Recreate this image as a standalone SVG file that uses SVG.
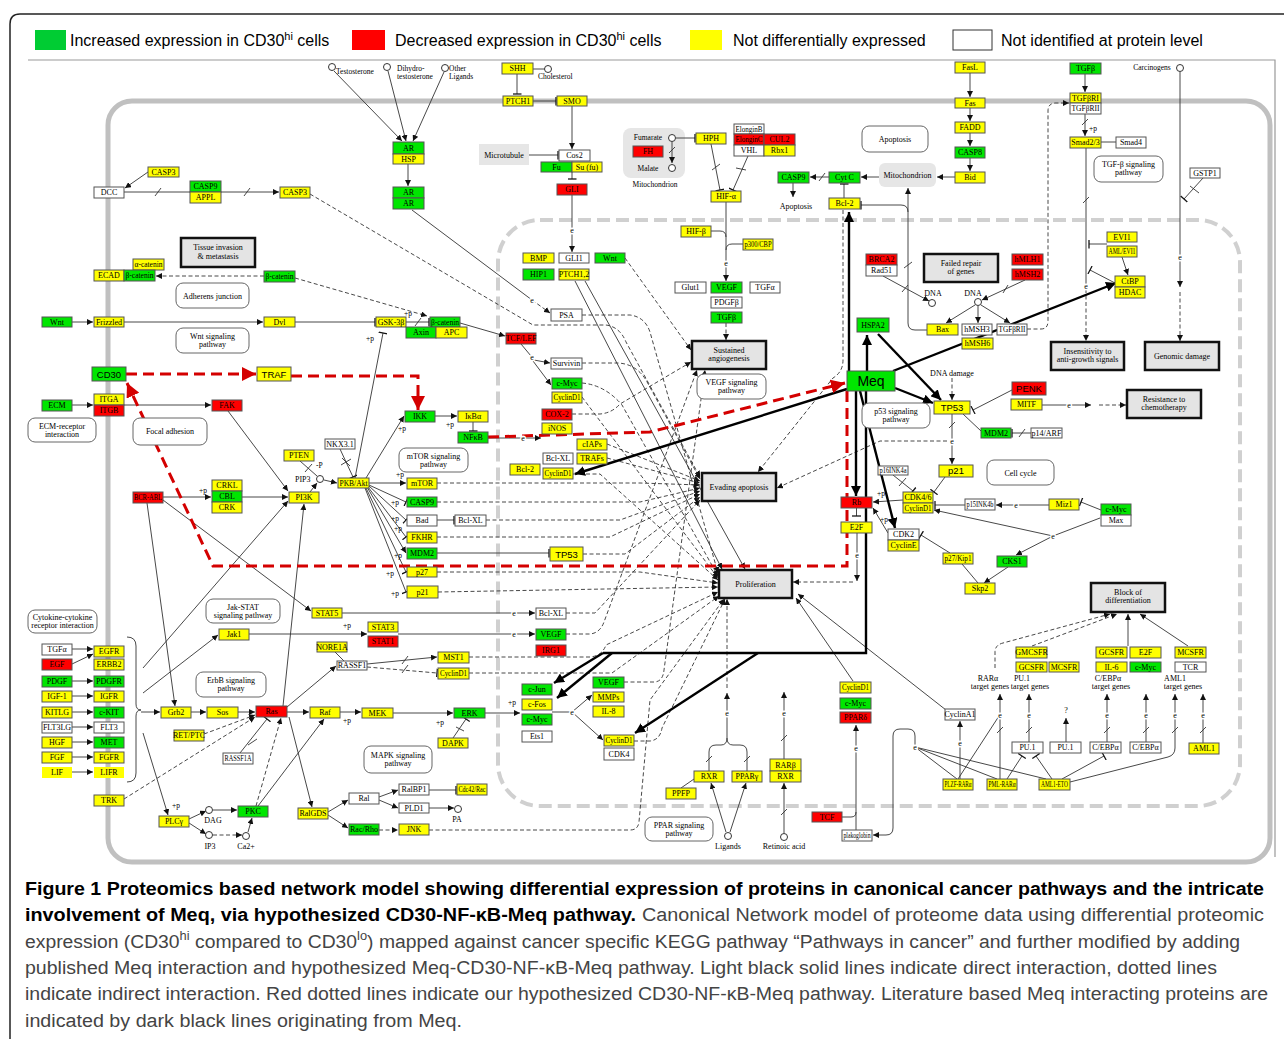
<svg xmlns="http://www.w3.org/2000/svg" width="1284" height="1039" viewBox="0 0 1284 1039">
<style>
text{font-family:"Liberation Serif","DejaVu Serif",serif;font-size:8px;text-anchor:middle;fill:#000}
rect.g{fill:#00e600}rect.r{fill:#f00}rect.y{fill:#ff0}rect.w{fill:#fff}
rect.g,rect.r,rect.y,rect.w{stroke:#555;stroke-width:1}
.sn{font-family:"Liberation Sans",Arial,sans-serif;font-size:9.5px}
.pb rect{fill:#e4e4e4;stroke:#111;stroke-width:2.5}
.pw rect{fill:#fff;stroke:#666;stroke-width:1}
.gr{fill:#e6e6e6}
.c{fill:none;stroke:#333;stroke-width:0.9}
.d{stroke-dasharray:4 2.5}
.tk{fill:none;stroke:#000;stroke-width:2.4}
.rd{fill:none;stroke:#d40000;stroke-width:3;stroke-dasharray:11 6}
.A{marker-end:url(#a)}.B{marker-end:url(#b)}.TA{marker-end:url(#ta)}.RA{marker-end:url(#ra)}
.e{font-size:8px;paint-order:stroke;stroke:#fff;stroke-width:3px}
.lt{text-anchor:start}
.sm{font-size:7.5px}
.p{text-anchor:start;font-size:7.5px}
.cp{fill:#fff;stroke:#333;stroke-width:1}
.cap{font-family:"Liberation Sans",Arial,sans-serif;font-size:18px;text-anchor:start;fill:#444}
.sup{font-size:12px}
.capb{font-weight:bold;fill:#000}
.leg{font-family:"Liberation Sans",Arial,sans-serif;font-size:16px;text-anchor:start}
.meq{font-size:14px}
</style>
<defs>
<marker id="a" viewBox="0 0 10 10" refX="10" refY="5" markerWidth="6" markerHeight="6" orient="auto" markerUnits="userSpaceOnUse"><path d="M0,0L10,5L0,10z" fill="#111"/></marker>
<marker id="b" viewBox="0 0 10 10" refX="5" refY="5" markerWidth="9" markerHeight="9" orient="auto" markerUnits="userSpaceOnUse"><path d="M5,0V10" stroke="#111" stroke-width="1.4"/></marker>
<marker id="ta" viewBox="0 0 10 10" refX="10" refY="5" markerWidth="10" markerHeight="10" orient="auto" markerUnits="userSpaceOnUse"><path d="M0,0L10,5L0,10z" fill="#000"/></marker>
<marker id="ra" viewBox="0 0 10 10" refX="10" refY="5" markerWidth="14" markerHeight="14" orient="auto" markerUnits="userSpaceOnUse"><path d="M0,0L10,5L0,10z" fill="#d40000"/></marker>
</defs>
<rect width="1284" height="1039" fill="#fff"/>
<path d="M10,1039V24Q10,14 20,14H1284" fill="none" stroke="#222" stroke-width="1.5"/>
<g id="legend">
<rect x="35" y="30" width="31" height="20" fill="#00cc33"/>
<text class="leg" x="70" y="46">Increased expression in CD30<tspan dy="-6" style="font-size:11px">hi</tspan><tspan dy="6"> cells</tspan></text>
<rect x="352" y="30" width="33" height="20" fill="#f00"/>
<text class="leg" x="395" y="46">Decreased expression in CD30<tspan dy="-6" style="font-size:11px">hi</tspan><tspan dy="6"> cells</tspan></text>
<rect x="690" y="30" width="32" height="20" fill="#ff0"/>
<text class="leg" x="733" y="46">Not differentially expressed</text>
<rect x="953" y="30" width="39" height="20" fill="#fff" stroke="#333"/>
<text class="leg" x="1001" y="46">Not identified at protein level</text>
</g>
<g id="frame">
<path d="M28,60H1275V857" fill="none" stroke="#999" stroke-width="1.2"/>
<rect x="108" y="101" width="1162" height="761" rx="24" fill="none" stroke="#c0c0c0" stroke-width="5"/>
<rect x="498" y="220" width="742" height="586" rx="42" fill="none" stroke="#d0d0d0" stroke-width="4" stroke-dasharray="13 6"/>
<rect class="gr" x="479" y="144" width="50" height="21"/>
<rect class="gr" x="623" y="128" width="62" height="50" rx="8"/>
<rect class="gr" x="879" y="163" width="57" height="24" rx="6"/>
</g>
<g id="connectors">
<path class="c A" d="M148,172L125,188"/>
<path class="c A" d="M124,192H279"/>
<path class="c" d="M155,196L161,188M244,196L250,188"/>
<path class="c d A" d="M264,276H156"/>
<path class="c A" d="M72,322H93"/>
<path class="c A" d="M124,322H263"/>
<path class="c B" d="M295,322H375"/>
<path class="c B" d="M406,322H429"/>
<path class="c" d="M415,326L421,318"/>
<path class="c d A" d="M295,278L427,316"/>
<path class="c A" d="M460,323L505,336"/>
<path class="c" d="M521,344L531,356"/>
<path class="c A" d="M534,360L550,363"/>
<path class="c A" d="M533,361L551,385"/>
<path class="c A" d="M334,71L402,141"/>
<path class="c A" d="M388,71L406,141"/>
<path class="c A" d="M444,72L413,141"/>
<path class="c A" d="M408,164V186"/>
<path class="c" d="M412,210L532,300"/>
<path class="c d A" d="M532,300L550,313"/>
<path class="c" d="M533,69H545"/>
<path class="c B" d="M517,74V94"/>
<path class="c B" d="M533,101H556"/>
<path class="c A" d="M572,106V149"/>
<path class="c B" d="M529,155H558"/>
<path class="c B" d="M572,172V179"/>
<path class="c A" d="M572,195V252"/>
<path class="c B" d="M676,138H695"/>
<path class="c A" d="M672,142V163"/>
<path class="c" d="M669,153L675,147"/>
<path class="c B" d="M711,144L720,190"/>
<path class="c" d="M712,170L720,164"/>
<path class="c B" d="M748,156L733,190"/>
<path class="c" d="M736,168L746,170"/>
<path class="c A" d="M726,202V281"/>
<path class="c" d="M711,231H720Q726,231 726,237"/>
<path class="c" d="M743,244H732Q726,244 726,250"/>
<path class="c d A" d="M726,323V340"/>
<path class="c A" d="M970,73V97"/>
<path class="c A" d="M970,108V121"/>
<path class="c A" d="M970,133V146"/>
<path class="c A" d="M970,158V171"/>
<path class="c A" d="M955,177H937"/>
<path class="c A" d="M879,177H861"/>
<path class="c A" d="M829,177H810"/>
<path class="c" d="M819,181L825,173"/>
<path class="c A" d="M793,183V197"/>
<path class="c B" d="M844,198V184"/>
<path class="c A" d="M927,330H915Q908,330 908,323V188"/>
<path class="c" d="M904,268L912,262"/>
<path class="c B" d="M908,212Q908,205 901,205H861"/>
<path class="c A" d="M883,276L929,301"/>
<path class="c" d="M902,292L908,285"/>
<path class="c A" d="M1025,280L982,300"/>
<path class="c" d="M1003,293L1008,285"/>
<path class="c A" d="M975,305L946,323"/>
<path class="c A" d="M978,306V323"/>
<path class="c A" d="M981,305L1010,323"/>
<path class="c d A" d="M1027,329H1041Q1048,329 1048,321V111Q1048,103 1056,103H1069"/>
<path class="c A" d="M1085,114V136"/>
<path class="c A" d="M1085,74V92"/>
<path class="c" d="M1082,125L1088,119"/>
<path class="c" d="M1101,142H1116"/>
<path class="c" d="M1086,148V286"/>
<path class="c" d="M1083,203L1089,197"/>
<path class="c d A" d="M1086,289V341"/>
<path class="c B" d="M1107,244H1089"/>
<path class="c A" d="M1122,257L1128,275"/>
<path class="c B" d="M1115,283L1090,270"/>
<path class="c A" d="M1180,72V287"/>
<path class="c d A" d="M1180,292V341"/>
<path class="c B" d="M1203,178L1184,199"/>
<path class="c" d="M1190,186L1199,193"/>
<path class="c A" d="M72,405H93"/>
<path class="c A" d="M124,405H211"/>
<path class="c A" d="M228,411L288,491"/>
<path class="c A" d="M163,497H211"/>
<path class="c A" d="M242,497H288"/>
<path class="c" d="M300,461L317,476"/>
<path class="c" d="M305,472L312,464"/>
<path class="c A" d="M310,492L317,483"/>
<path class="c A" d="M324,480L337,483"/>
<path class="c B" d="M340,449L353,477"/>
<path class="c" d="M341,465L351,459M342,458L350,466"/>
<path class="c A" d="M366,478L404,416"/>
<path class="c A" d="M369,483H406"/>
<path class="c B" d="M369,485L406,502"/>
<path class="c B" d="M369,486L406,520"/>
<path class="c B" d="M368,487L406,537"/>
<path class="c A" d="M367,487L406,553"/>
<path class="c B" d="M366,488L406,572"/>
<path class="c B" d="M365,488L406,592"/>
<path class="c B" d="M355,478L383,333"/>
<path class="c B" d="M437,520H454"/>
<path class="c B" d="M437,553H549"/>
<path class="c A" d="M435,416H457"/>
<path class="c B" d="M473,422V431"/>
<path class="c A" d="M488,438H541"/>
<path class="c A" d="M163,500L311,611"/>
<path class="c A" d="M147,503L175,706"/>
<path class="c A" d="M342,613H535"/>
<path class="c A" d="M249,634H367"/>
<path class="c A" d="M398,634H535"/>
<path class="c A" d="M143,668L288,501"/>
<path class="c A" d="M143,693L218,635"/>
<path class="c A" d="M141,712H160"/>
<path class="c A" d="M143,733L168,815"/>
<path class="c" d="M127,637Q136,637 136,646V704Q136,710 141,710Q136,710 136,716V773Q136,782 127,782" stroke="#999"/>
<path class="c A" d="M72,649H93"/>
<path class="c A" d="M72,664L93,654"/>
<path class="c A" d="M72,681H93"/>
<path class="c A" d="M72,696H93"/>
<path class="c A" d="M72,712H93"/>
<path class="c A" d="M72,727H93"/>
<path class="c A" d="M72,742H93"/>
<path class="c A" d="M72,757H93"/>
<path class="c A" d="M72,772H93"/>
<path class="c A" d="M191,712H206"/>
<path class="c A" d="M238,712H255"/>
<path class="c d A" d="M204,734L255,715"/>
<path class="c d A" d="M124,799L255,717"/>
<path class="c B" d="M240,753L267,719"/>
<path class="c" d="M248,745L257,739"/>
<path class="c A" d="M287,712H309"/>
<path class="c A" d="M283,706L304,504"/>
<path class="c A" d="M289,717L312,807"/>
<path class="c A" d="M287,707L336,666"/>
<path class="c" d="M335,652L344,661"/>
<path class="c A" d="M367,664L437,657"/>
<path class="c" d="M402,664L408,656"/>
<path class="c d B" d="M367,667L437,673"/>
<path class="c" d="M402,673L408,665"/>
<path class="c A" d="M189,819L206,811"/>
<path class="c A" d="M213,810H237"/>
<path class="c A" d="M189,823L206,834"/>
<path class="c d A" d="M213,835H242"/>
<path class="c A" d="M248,832L252,818"/>
<path class="c d A" d="M256,806L281,718"/>
<path class="c A" d="M258,806L324,719"/>
<path class="c A" d="M340,712H361"/>
<path class="c A" d="M393,713H453"/>
<path class="c B" d="M453,738L466,719"/>
<path class="c" d="M456,727L464,731"/>
<path class="c A" d="M485,713H520"/>
<path class="c" d="M552,712H572"/>
<path class="c A" d="M572,712L592,695"/>
<path class="c A" d="M572,712L603,740"/>
<path class="c A" d="M328,812L348,800"/>
<path class="c A" d="M379,797L398,790"/>
<path class="c A" d="M379,800L398,808"/>
<path class="c B" d="M429,790H456"/>
<path class="c A" d="M429,808H454"/>
<path class="c A" d="M328,815L348,828"/>
<path class="c d A" d="M379,830H398"/>
<path class="c d A" d="M429,830H630Q638,830 639,822L650,700L724,599"/>
<path class="c d A" d="M952,378V400"/>
<path class="c A" d="M952,414V464"/>
<path class="c" d="M949,428L955,422"/>
<path class="c d A" d="M947,441H880L777,488"/>
<path class="c" d="M963,414L981,431"/>
<path class="c B" d="M1012,390L973,410"/>
<path class="c A" d="M1042,405H1091"/>
<path class="c d A" d="M1099,405H1126"/>
<path class="c B" d="M1031,433H1012"/>
<path class="c" d="M1019,437L1025,429"/>
<path class="c B" d="M945,477L934,492"/>
<path class="c B" d="M893,475L913,491"/>
<path class="c" d="M899,486L906,478"/>
<path class="c A" d="M903,500L873,502"/>
<path class="c A" d="M888,533L873,508"/>
<path class="c B" d="M856.5,508V516"/>
<path class="c A" d="M857,533V581"/>
<path class="c d A" d="M853,582H793"/>
<path class="c B" d="M965,505H935"/>
<path class="c A" d="M1049,505H996"/>
<path class="c B" d="M1101,510L1081,502"/>
<path class="c" d="M1100,518L1053,536"/>
<path class="c A" d="M1053,536L934,510"/>
<path class="c A" d="M1053,536L1016,555"/>
<path class="c B" d="M950,553L921,535"/>
<path class="c A" d="M1008,567L984,583"/>
<path class="c" d="M962,564L978,583"/>
<path class="c A" d="M960,779V721"/>
<path class="c" d="M915,747L957,779M915,747L997,779M915,747L1046,779"/>
<path class="c A" d="M915,747V736Q915,729 908,729H900Q893,729 893,736V828Q893,835 886,835H873"/>
<path class="c" d="M958,779L999,716"/>
<path class="c A" d="M1000,779V694"/>
<path class="c" d="M997,733L1003,727"/>
<path class="c B" d="M1007,779L1022,756"/>
<path class="c B" d="M1052,779L1036,756"/>
<path class="c B" d="M1062,779L1104,756"/>
<path class="c A" d="M1070,782L1168,757Q1175,755 1175,748V694"/>
<path class="c" d="M1172,733L1178,727"/>
<path class="c A" d="M1029,742V694"/>
<path class="c" d="M1026,733L1032,727"/>
<path class="c A" d="M1066,742V718"/>
<path class="c A" d="M1107,742V694"/>
<path class="c" d="M1104,733L1110,727"/>
<path class="c A" d="M1146,742V694"/>
<path class="c" d="M1143,733L1149,727"/>
<path class="c A" d="M1203,743V694"/>
<path class="c" d="M1200,733L1206,727"/>
<path class="c d A" d="M995,668V652Q995,645 1003,643L1110,614"/>
<path class="c d A" d="M1032,646L1117,614"/>
<path class="c A" d="M1128,646V614"/>
<path class="c A" d="M1188,646L1140,614"/>
<path class="c" d="M842,817H851Q856,817 856,812"/>
<path class="c A" d="M856,830V725"/>
<path class="c A" d="M853,681L796,598"/>
<path class="c A" d="M946,710L798,594"/>
<path class="c" d="M709,771V752Q709,745 716,745H721Q727,745 727,738Q727,745 733,745H740Q747,745 747,752V771"/>
<path class="c" d="M706,762L712,756M744,762L750,756"/>
<path class="c A" d="M727,738V693"/>
<path class="c d A" d="M727,688V599"/>
<path class="c" d="M681,788L694,779"/>
<path class="c A" d="M726,832L711,783"/>
<path class="c A" d="M730,832L746,783"/>
<path class="c A" d="M784,833V783"/>
<path class="c" d="M781,815L787,809"/>
<path class="c A" d="M784,759V692"/>
<path class="c" d="M781,741L787,735"/>
<path class="c d A" d="M310,194L533,325H606Q620,327 626,342L700,477"/>
<path class="c d A" d="M582,363H618Q636,364 646,380L700,479"/>
<path class="c d A" d="M607,444L700,481"/>
<path class="c d A" d="M607,458L700,483"/>
<path class="c d A" d="M437,483H640L700,485"/>
<path class="c d A" d="M437,502H640L700,488"/>
<path class="c d A" d="M486,520H620L700,491"/>
<path class="c d A" d="M437,537H610L700,494"/>
<path class="c d A" d="M583,554H625L700,497"/>
<path class="c d A" d="M566,613H595L700,500"/>
<path class="c d A" d="M843,210V360Q843,372 833,378L758,472"/>
<path class="c d A" d="M582,315H630Q645,317 650,332L718,573"/>
<path class="c d A" d="M582,383Q605,385 622,405L718,576"/>
<path class="c d A" d="M582,397L718,578"/>
<path class="c d A" d="M573,474H600L718,580"/>
<path class="c d A" d="M437,572H640L718,583"/>
<path class="c d A" d="M438,592L718,587"/>
<path class="c d A" d="M469,657H590Q602,656 606,645L718,592"/>
<path class="c d A" d="M469,673H612L719,596"/>
<path class="c d A" d="M634,741H650Q660,740 662,728L725,599"/>
<path class="c d A" d="M624,682H655Q663,681 664,670L705,370"/>
<path class="c d A" d="M566,634H590Q600,633 604,622L697,370"/>
<path class="c d A" d="M572,414H600Q612,413 620,404L691,362"/>
<path class="c A" d="M575,281L722,569"/>
<path class="c A" d="M585,281L745,569"/>
<path class="c d A" d="M625,258L691,350"/>
<path class="tk TA" d="M849,371V212"/>
<path class="tk TA" d="M867,371V335"/>
<path class="tk TA" d="M878,334L941,400"/>
<path class="tk TA" d="M895,388L933,403"/>
<path class="tk TA" d="M893,371L1116,283"/>
<path class="tk TA" d="M847,389L575,474"/>
<path class="tk TA" d="M856,391V496"/>
<path class="tk TA" d="M860,391L895,528"/>
<path class="tk" d="M866,391V653H603"/>
<path class="tk TA" d="M603,653L554,683"/>
<path class="tk TA" d="M612,653L557,698"/>
<path class="tk TA" d="M758,653L635,733"/>
<path class="rd RA" d="M126,374H256"/>
<path class="rd RA" d="M291,376H418V410"/>
<path class="rd RA" d="M488,437L650,432L845,383"/>
<path class="rd RA" d="M847,391V566H213L127,383"/>
<g>
<text class="e" x="532" y="360">e</text><text class="e" x="532" y="303">e</text><text class="e" x="572" y="233">e</text><text class="e" x="726" y="266">e</text><text class="e" x="1086" y="289">e</text><text class="e" x="1180" y="260">e</text><text class="e" x="523" y="441">e</text><text class="e" x="514" y="616">e</text><text class="e" x="514" y="637">e</text><text class="e" x="572" y="715">e</text><text class="e" x="952" y="444">e</text><text class="e" x="1069" y="408">e</text><text class="e" x="857" y="558">e</text><text class="e" x="1016" y="508">e</text><text class="e" x="1053" y="539">e</text><text class="e" x="960" y="746">e</text><text class="e" x="915" y="750">e</text><text class="e" x="1000" y="718">e</text><text class="e" x="1029" y="718">e</text><text class="e" x="1107" y="718">e</text><text class="e" x="1146" y="718">e</text><text class="e" x="1175" y="718">e</text><text class="e" x="1203" y="718">e</text><text class="e" x="856" y="751">e</text><text class="e" x="727" y="716">e</text><text class="e" x="784" y="716">e</text>
</g>
<g>
<text class="p" x="404" y="316">+p</text><text class="p" x="366" y="341">+p</text><text class="p" x="199" y="493">+p</text><text class="p" x="398" y="431">+p</text><text class="p" x="446" y="427">+p</text><text class="p" x="396" y="477">+p</text><text class="p" x="391" y="505">+p</text><text class="p" x="391" y="521">+p</text><text class="p" x="394" y="531">+p</text><text class="p" x="394" y="558">+p</text><text class="p" x="386" y="576">+p</text><text class="p" x="391" y="596">+p</text><text class="p" x="343" y="628">+p</text><text class="p" x="343" y="723">+p</text><text class="p" x="436" y="725">+p</text><text class="p" x="508" y="705">+p</text><text class="p" x="1089" y="131">+p</text><text class="p" x="877" y="496">+p</text><text class="p" x="880" y="522">+p</text><text class="p" x="172" y="808">+p</text><text class="p" x="316" y="468">-P</text>
</g>
<g id="compounds">
<circle class="cp" cx="332" cy="67" r="3.5"/><circle class="cp" cx="387" cy="67" r="3.5"/><circle class="cp" cx="445" cy="68" r="3.5"/><circle class="cp" cx="548" cy="69" r="3.5"/>
<circle class="cp" cx="672" cy="138" r="3.5"/><circle class="cp" cx="672" cy="168" r="3.5"/>
<circle class="cp" cx="932" cy="303" r="3.5"/><circle class="cp" cx="978" cy="302" r="3.5"/><circle class="cp" cx="1180" cy="68" r="3.5"/>
<circle class="cp" cx="320" cy="479" r="3.5"/><circle class="cp" cx="209" cy="810" r="3.5"/><circle class="cp" cx="209" cy="835" r="3.5"/><circle class="cp" cx="246" cy="836" r="3.5"/><circle class="cp" cx="458" cy="809" r="3.5"/>
<circle class="cp" cx="728" cy="836" r="3.5"/><circle class="cp" cx="784" cy="837" r="3.5"/>
</g>
</g>
<g id="labels">
<text class="lt sm" x="336" y="74">Testosterone</text>
<text class="lt sm" x="397" y="71">Dihydro-</text><text class="lt sm" x="397" y="79">testosterone</text>
<text class="lt sm" x="449" y="71">Other</text><text class="lt sm" x="449" y="79">Ligands</text>
<text class="lt sm" x="538" y="79">Cholesterol</text>
<text x="504" y="157.5">Microtubule</text>
<text class="sm" x="648" y="140">Fumarate</text><text class="sm" x="648" y="171">Malate</text><text class="sm" x="655" y="187">Mitochondrion</text>
<text x="907.5" y="178">Mitochondrion</text>
<text x="796" y="209">Apoptosis</text>
<text x="933" y="296">DNA</text><text x="973" y="296">DNA</text>
<text class="sm" x="1152" y="70">Carcinogens</text>
<text x="952" y="376">DNA damage</text>
<text class="lt" x="295" y="482">PIP3</text>
<text x="213" y="823">DAG</text><text x="210" y="849">IP3</text><text x="246" y="849">Ca2+</text><text x="457" y="822">PA</text>
<text x="728" y="849">Ligands</text><text x="784" y="849">Retinoic acid</text>
<text x="988" y="681">RARα</text><text x="990" y="689">target genes</text>
<text x="1022" y="681">PU.1</text><text x="1030" y="689">target genes</text>
<text x="1108" y="681">C/EBPα</text><text x="1111" y="689">target genes</text>
<text x="1175" y="681">AML1</text><text x="1183" y="689">target genes</text>
<text x="1066" y="713">?</text>
</g>
<g id="processes" class="pb">
<g id="p_tissue"><rect x="181" y="238" width="74" height="29"/><text x="218" y="250">Tissue invasion</text><text x="218" y="259">&amp; metastasis</text></g>
<g id="p_angio"><rect x="692" y="341" width="74" height="28"/><text x="729" y="353">Sustained</text><text x="729" y="361">angiogenesis</text></g>
<g id="p_evading"><rect x="702" y="473" width="74" height="28"/><text x="739" y="490">Evading apoptosis</text></g>
<g id="p_prolif"><rect x="719" y="570" width="73" height="28"/><text x="755.5" y="587">Proliferation</text></g>
<g id="p_failed"><rect x="924" y="254" width="74" height="28"/><text x="961" y="266">Failed repair</text><text x="961" y="274">of genes</text></g>
<g id="p_insens"><rect x="1051" y="342" width="73" height="28"/><text x="1087.5" y="354">Insensitivity to</text><text x="1087.5" y="362">anti-growth signals</text></g>
<g id="p_genomic"><rect x="1145" y="342" width="74" height="28"/><text x="1182" y="359">Genomic damage</text></g>
<g id="p_resist"><rect x="1127" y="390" width="74" height="28"/><text x="1164" y="402">Resistance to</text><text x="1164" y="410">chemotherapy</text></g>
<g id="p_block"><rect x="1091" y="583" width="74" height="29"/><text x="1128" y="595">Block of</text><text x="1128" y="603">differentiation</text></g>
</g>
<g id="pathways" class="pw">
<g id="w_adherens"><rect x="176" y="283" width="73" height="25" rx="7"/><text x="212.5" y="298.5">Adherens junction</text></g>
<g id="w_wnt"><rect x="176" y="328" width="73" height="25" rx="7"/><text x="212.5" y="339">Wnt signaling</text><text x="212.5" y="347">pathway</text></g>
<g id="w_ecm"><rect x="28" y="418" width="68" height="24" rx="7"/><text x="62" y="428.5">ECM-receptor</text><text x="62" y="436.5">interaction</text></g>
<g id="w_focal"><rect x="133" y="418" width="74" height="27" rx="7"/><text x="170" y="434">Focal adhesion</text></g>
<g id="w_mtor"><rect x="399" y="448" width="69" height="24" rx="7"/><text x="433.5" y="458.5">mTOR signaling</text><text x="433.5" y="466.5">pathway</text></g>
<g id="w_jak"><rect x="206" y="599" width="74" height="24" rx="7"/><text x="243" y="609.5">Jak-STAT</text><text x="243" y="617.5">signaling pathway</text></g>
<g id="w_cyto"><rect x="28" y="610" width="69" height="23" rx="7"/><text x="62.5" y="620">Cytokine-cytokine</text><text x="62.5" y="628">receptor interaction</text></g>
<g id="w_erbb"><rect x="196" y="672" width="70" height="25" rx="7"/><text x="231" y="683">ErbB signaling</text><text x="231" y="691">pathway</text></g>
<g id="w_mapk"><rect x="364" y="746" width="68" height="27" rx="7"/><text x="398" y="758">MAPK signaling</text><text x="398" y="766">pathway</text></g>
<g id="w_ppar"><rect x="645" y="817" width="68" height="24" rx="7"/><text x="679" y="827.5">PPAR signaling</text><text x="679" y="835.5">pathway</text></g>
<g id="w_vegf"><rect x="697" y="374" width="69" height="25" rx="7"/><text x="731.5" y="384.5">VEGF signaling</text><text x="731.5" y="392.5">pathway</text></g>
<g id="w_p53"><rect x="862" y="403" width="68" height="25" rx="7"/><text x="896" y="413.5">p53 signaling</text><text x="896" y="421.5">pathway</text></g>
<g id="w_apop"><rect x="862" y="126" width="66" height="26" rx="7"/><text x="895" y="141.5">Apoptosis</text></g>
<g id="w_tgf"><rect x="1094" y="156" width="69" height="26" rx="7"/><text x="1128.5" y="167">TGF-β signaling</text><text x="1128.5" y="175">pathway</text></g>
<g id="w_cell"><rect x="987" y="460" width="67" height="25" rx="7"/><text x="1020.5" y="475.5">Cell cycle</text></g>
</g>
<g id="nodes">
<g id="n1"><rect class="y" x="502" y="63" width="31" height="11"/><text x="517.5" y="71.3">SHH</text></g>
<g id="n2"><rect class="y" x="503" y="96" width="30" height="10"/><text x="518" y="103.8">PTCH1</text></g>
<g id="n3"><rect class="y" x="557" y="96" width="30" height="10"/><text x="572" y="103.8">SMO</text></g>
<g id="n4"><rect class="g" x="393" y="142" width="31" height="12"/><text x="408.5" y="150.8">AR</text><rect class="y" x="393" y="154" width="31" height="10"/><text x="408.5" y="161.8">HSP</text></g>
<g id="n5"><rect class="g" x="393" y="187" width="31" height="11"/><text x="408.5" y="195.3">AR</text><rect class="g" x="393" y="198" width="31" height="11"/><text x="408.5" y="206.3">AR</text></g>
<g id="n6"><rect class="w" x="559" y="150" width="31" height="11"/><text x="574.5" y="158.3">Cos2</text></g>
<g id="n7"><rect class="g" x="541" y="162" width="31" height="10"/><text x="556.5" y="169.8">Fu</text><rect class="y" x="572" y="162" width="30" height="10"/><text x="587" y="169.8">Su (fu)</text></g>
<g id="n8"><rect class="r" x="557" y="184" width="30" height="11"/><text x="572" y="192.3">GLI</text></g>
<g id="n9"><rect class="r" x="633" y="146" width="30" height="11"/><text x="648" y="154.3">FH</text></g>
<g id="n10"><rect class="y" x="696" y="133" width="30" height="11"/><text x="711" y="141.3">HPH</text></g>
<g id="n11"><rect class="w" x="734" y="124" width="30" height="10"/><text x="749" y="131.8" textLength="27" lengthAdjust="spacingAndGlyphs">ElonginB</text><rect class="r" x="734" y="134" width="30" height="11"/><text x="749" y="142.3" textLength="27" lengthAdjust="spacingAndGlyphs">ElonginC</text><rect class="r" x="764" y="134" width="31" height="11"/><text x="779.5" y="142.3">CUL2</text><rect class="w" x="734" y="145" width="30" height="11"/><text x="749" y="153.3">VHL</text><rect class="y" x="764" y="145" width="31" height="11"/><text x="779.5" y="153.3">Rbx1</text></g>
<g id="n12"><rect class="y" x="711" y="191" width="30" height="11"/><text x="726" y="199.3">HIF-α</text></g>
<g id="n13"><rect class="y" x="681" y="226" width="30" height="11"/><text x="696" y="234.3">HIF-β</text></g>
<g id="n14"><rect class="y" x="743" y="239" width="30" height="11"/><text x="758" y="247.3" textLength="27" lengthAdjust="spacingAndGlyphs">p300/CBP</text></g>
<g id="n15"><rect class="w" x="675" y="282" width="31" height="11"/><text x="690.5" y="290.3">Glut1</text><rect class="g" x="711" y="282" width="31" height="11"/><text x="726.5" y="290.3">VEGF</text><rect class="w" x="750" y="282" width="30" height="11"/><text x="765" y="290.3">TGFα</text></g>
<g id="n16"><rect class="w" x="711" y="297" width="31" height="11"/><text x="726.5" y="305.3">PDGFβ</text></g>
<g id="n17"><rect class="g" x="711" y="312" width="31" height="11"/><text x="726.5" y="320.3">TGFβ</text></g>
<g id="n18"><rect class="g" x="778" y="172" width="31" height="11"/><text x="793.5" y="180.3">CASP9</text></g>
<g id="n19"><rect class="g" x="829" y="172" width="31" height="11"/><text x="844.5" y="180.3">Cyt C</text></g>
<g id="n20"><rect class="y" x="829" y="198" width="31" height="11"/><text x="844.5" y="206.3">Bcl-2</text></g>
<g id="n21"><rect class="y" x="955" y="62" width="30" height="11"/><text x="970" y="70.3">FasL</text></g>
<g id="n22"><rect class="y" x="955" y="98" width="30" height="10"/><text x="970" y="105.8">Fas</text></g>
<g id="n23"><rect class="y" x="955" y="122" width="30" height="11"/><text x="970" y="130.3">FADD</text></g>
<g id="n24"><rect class="g" x="955" y="147" width="30" height="11"/><text x="970" y="155.3">CASP8</text></g>
<g id="n25"><rect class="y" x="955" y="172" width="30" height="11"/><text x="970" y="180.3">Bid</text></g>
<g id="n26"><rect class="g" x="1070" y="63" width="31" height="11"/><text x="1085.5" y="71.3">TGFβ</text></g>
<g id="n27"><rect class="y" x="1070" y="93" width="31" height="10"/><text x="1085.5" y="100.8" textLength="27" lengthAdjust="spacingAndGlyphs">TGFβRI</text><rect class="w" x="1070" y="103" width="31" height="11"/><text x="1085.5" y="111.3" textLength="28" lengthAdjust="spacingAndGlyphs">TGFβRII</text></g>
<g id="n28"><rect class="y" x="1070" y="137" width="31" height="11"/><text x="1085.5" y="145.3">Smad2/3</text></g>
<g id="n29"><rect class="w" x="1116" y="137" width="30" height="11"/><text x="1131" y="145.3">Smad4</text></g>
<g id="n30"><rect class="w" x="1190" y="168" width="30" height="10"/><text x="1205" y="175.8">GSTP1</text></g>
<g id="n31"><rect class="r" x="866" y="254" width="31" height="11"/><text x="881.5" y="262.3">BRCA2</text><rect class="w" x="866" y="265" width="31" height="11"/><text x="881.5" y="273.3">Rad51</text></g>
<g id="n32"><rect class="r" x="1012" y="254" width="31" height="11"/><text x="1027.5" y="262.3">hMLH1</text></g>
<g id="n33"><rect class="r" x="1012" y="269" width="31" height="11"/><text x="1027.5" y="277.3">hMSH2</text></g>
<g id="n34"><rect class="y" x="1107" y="232" width="30" height="10"/><text x="1122" y="239.8">EVI1</text></g>
<g id="n35"><rect class="y" x="1107" y="246" width="30" height="11"/><text x="1122" y="254.3" textLength="27" lengthAdjust="spacingAndGlyphs">AML/EVI1</text></g>
<g id="n36"><rect class="y" x="1115" y="276" width="30" height="11"/><text x="1130" y="284.3">CtBP</text><rect class="y" x="1115" y="287" width="30" height="11"/><text x="1130" y="295.3">HDAC</text></g>
<g id="n37"><rect class="y" x="927" y="324" width="31" height="11"/><text x="942.5" y="332.3">Bax</text></g>
<g id="n38"><rect class="w" x="962" y="324" width="30" height="11"/><text x="977" y="332.3">hMSH3</text></g>
<g id="n39"><rect class="w" x="997" y="324" width="30" height="11"/><text x="1012" y="332.3" textLength="27" lengthAdjust="spacingAndGlyphs">TGFβRII</text></g>
<g id="n40"><rect class="y" x="962" y="338" width="31" height="11"/><text x="977.5" y="346.3">hMSH6</text></g>
<g id="n41"><rect class="g" x="857" y="318" width="32" height="14"/><text x="873" y="328">HSPA2</text></g>
<g id="n42"><rect class="y" x="148" y="167" width="31" height="10"/><text x="163.5" y="174.8">CASP3</text></g>
<g id="n43"><rect class="w" x="94" y="187" width="30" height="11"/><text x="109" y="195.3">DCC</text></g>
<g id="n44"><rect class="g" x="190" y="181" width="31" height="11"/><text x="205.5" y="189.3">CASP9</text><rect class="y" x="190" y="192" width="31" height="11"/><text x="205.5" y="200.3">APPL</text></g>
<g id="n45"><rect class="y" x="280" y="187" width="30" height="11"/><text x="295" y="195.3">CASP3</text></g>
<g id="n46"><rect class="y" x="133" y="259" width="31" height="11"/><text x="148.5" y="267.3" textLength="28" lengthAdjust="spacingAndGlyphs">α-catenin</text></g>
<g id="n47"><rect class="y" x="94" y="270" width="30" height="11"/><text x="109" y="278.3">ECAD</text><rect class="g" x="124" y="270" width="31" height="11"/><text x="139.5" y="278.3" textLength="28" lengthAdjust="spacingAndGlyphs">β-catenin</text></g>
<g id="n48"><rect class="g" x="264" y="271" width="31" height="11"/><text x="279.5" y="279.3" textLength="28" lengthAdjust="spacingAndGlyphs">β-catenin</text></g>
<g id="n49"><rect class="g" x="42" y="317" width="30" height="10"/><text x="57" y="324.8">Wnt</text></g>
<g id="n50"><rect class="y" x="94" y="317" width="30" height="10"/><text x="109" y="324.8">Frizzled</text></g>
<g id="n51"><rect class="y" x="264" y="317" width="31" height="10"/><text x="279.5" y="324.8">Dvl</text></g>
<g id="n52"><rect class="y" x="376" y="317" width="30" height="10"/><text x="391" y="324.8">GSK-3β</text></g>
<g id="n53"><rect class="g" x="430" y="317" width="30" height="10"/><text x="445" y="324.8" textLength="28" lengthAdjust="spacingAndGlyphs">β-catenin</text><rect class="g" x="406" y="327" width="30" height="11"/><text x="421" y="335.3">Axin</text><rect class="y" x="436" y="327" width="31" height="11"/><text x="451.5" y="335.3">APC</text></g>
<g id="n54"><rect class="r" x="506" y="333" width="30" height="11"/><text x="521" y="341.3">TCF/LEF</text></g>
<g id="n55"><rect class="y" x="523" y="253" width="31" height="10"/><text x="538.5" y="260.8">BMP</text><rect class="w" x="559" y="253" width="30" height="10"/><text x="574" y="260.8">GLI1</text><rect class="g" x="595" y="253" width="30" height="10"/><text x="610" y="260.8">Wnt</text><rect class="g" x="523" y="269" width="31" height="11"/><text x="538.5" y="277.3">HIP1</text><rect class="y" x="559" y="269" width="30" height="11"/><text x="574" y="277.3">PTCH1,2</text></g>
<g id="n56"><rect class="w" x="551" y="309" width="31" height="12"/><text x="566.5" y="317.8">PSA</text></g>
<g id="n57"><rect class="w" x="551" y="358" width="31" height="11"/><text x="566.5" y="366.3">Survivin</text></g>
<g id="n58"><rect class="g" x="552" y="378" width="30" height="11"/><text x="567" y="386.3">c-Myc</text><rect class="y" x="552" y="392" width="30" height="11"/><text x="567" y="400.3" textLength="27" lengthAdjust="spacingAndGlyphs">CyclinD1</text></g>
<g id="n59"><rect class="r" x="542" y="409" width="30" height="11"/><text x="557" y="417.3">COX-2</text><rect class="y" x="542" y="423" width="30" height="11"/><text x="557" y="431.3">iNOS</text></g>
<g id="n60"><rect class="y" x="577" y="439" width="30" height="11"/><text x="592" y="447.3">cIAPs</text><rect class="w" x="543" y="453" width="30" height="11"/><text x="558" y="461.3">Bcl-XL</text><rect class="y" x="577" y="453" width="30" height="11"/><text x="592" y="461.3">TRAFs</text><rect class="y" x="510" y="464" width="30" height="11"/><text x="525" y="472.3">Bcl-2</text><rect class="y" x="543" y="468" width="30" height="11"/><text x="558" y="476.3" textLength="27" lengthAdjust="spacingAndGlyphs">CyclinD1</text></g>
<g id="n61"><rect class="g" x="92" y="367" width="34" height="14"/><text class="sn" x="109" y="377.5">CD30</text></g>
<g id="n62"><rect class="y" x="257" y="367" width="34" height="14"/><text class="sn" x="274" y="377.5">TRAF</text></g>
<g id="n63"><rect class="y" x="94" y="394" width="30" height="11"/><text x="109" y="402.3">ITGA</text><rect class="r" x="94" y="405" width="30" height="11"/><text x="109" y="413.3">ITGB</text></g>
<g id="n64"><rect class="g" x="42" y="400" width="30" height="11"/><text x="57" y="408.3">ECM</text></g>
<g id="n65"><rect class="r" x="212" y="400" width="30" height="11"/><text x="227" y="408.3">FAK</text></g>
<g id="n66"><rect class="g" x="405" y="411" width="30" height="11"/><text x="420" y="419.3">IKK</text></g>
<g id="n67"><rect class="y" x="458" y="411" width="30" height="11"/><text x="473" y="419.3">IκBα</text></g>
<g id="n68"><rect class="g" x="458" y="432" width="30" height="11"/><text x="473" y="440.3">NFκB</text></g>
<g id="n69"><rect class="w" x="325" y="439" width="30" height="10"/><text x="340" y="446.8">NKX3.1</text></g>
<g id="n70"><rect class="y" x="284" y="450" width="30" height="11"/><text x="299" y="458.3">PTEN</text></g>
<g id="n71"><rect class="y" x="289" y="492" width="30" height="11"/><text x="304" y="500.3">PI3K</text></g>
<g id="n72"><rect class="y" x="212" y="480" width="30" height="11"/><text x="227" y="488.3">CRKL</text><rect class="g" x="212" y="491" width="30" height="11"/><text x="227" y="499.3">CBL</text><rect class="y" x="212" y="502" width="30" height="11"/><text x="227" y="510.3">CRK</text></g>
<g id="n73"><rect class="r" x="133" y="492" width="30" height="11"/><text x="148" y="500.3" textLength="28" lengthAdjust="spacingAndGlyphs">BCR-ABL</text></g>
<g id="n74"><rect class="y" x="338" y="478" width="31" height="10"/><text x="353.5" y="485.8" textLength="28" lengthAdjust="spacingAndGlyphs">PKB/Akt</text></g>
<g id="n75"><rect class="y" x="407" y="478" width="30" height="11"/><text x="422" y="486.3">mTOR</text></g>
<g id="n76"><rect class="g" x="407" y="497" width="30" height="10"/><text x="422" y="504.8">CASP9</text></g>
<g id="n77"><rect class="w" x="407" y="515" width="30" height="11"/><text x="422" y="523.3">Bad</text></g>
<g id="n78"><rect class="w" x="455" y="515" width="31" height="11"/><text x="470.5" y="523.3">Bcl-XL</text></g>
<g id="n79"><rect class="y" x="407" y="532" width="30" height="11"/><text x="422" y="540.3">FKHR</text></g>
<g id="n80"><rect class="g" x="407" y="548" width="30" height="11"/><text x="422" y="556.3">MDM2</text></g>
<g id="n81"><rect class="y" x="550" y="547" width="33" height="14"/><text class="sn" x="566.5" y="557.5">TP53</text></g>
<g id="n82"><rect class="y" x="407" y="567" width="30" height="10"/><text x="422" y="574.8">p27</text></g>
<g id="n83"><rect class="y" x="407" y="586" width="31" height="12"/><text x="422.5" y="594.8">p21</text></g>
<g id="n84"><rect class="y" x="312" y="608" width="30" height="10"/><text x="327" y="615.8">STAT5</text></g>
<g id="n85"><rect class="w" x="536" y="608" width="30" height="11"/><text x="551" y="616.3">Bcl-XL</text></g>
<g id="n86"><rect class="y" x="219" y="629" width="30" height="11"/><text x="234" y="637.3">Jak1</text></g>
<g id="n87"><rect class="y" x="368" y="622" width="30" height="10"/><text x="383" y="629.8">STAT3</text><rect class="r" x="368" y="636" width="30" height="11"/><text x="383" y="644.3">STAT1</text></g>
<g id="n88"><rect class="g" x="536" y="629" width="30" height="11"/><text x="551" y="637.3">VEGF</text><rect class="r" x="536" y="645" width="30" height="11"/><text x="551" y="653.3">IRG1</text></g>
<g id="n89"><rect class="y" x="317" y="642" width="30" height="10"/><text x="332" y="649.8">NORE1A</text></g>
<g id="n90"><rect class="w" x="337" y="661" width="30" height="9"/><text x="352" y="668.3">RASSF1</text></g>
<g id="n91"><rect class="y" x="438" y="652" width="31" height="11"/><text x="453.5" y="660.3">MST1</text></g>
<g id="n92"><rect class="y" x="438" y="668" width="31" height="11"/><text x="453.5" y="676.3" textLength="27" lengthAdjust="spacingAndGlyphs">CyclinD1</text></g>
<g id="n93"><rect class="w" x="42" y="644" width="30" height="11"/><text x="57" y="652.3">TGFα</text></g>
<g id="n94"><rect class="r" x="42" y="659" width="30" height="11"/><text x="57" y="667.3">EGF</text></g>
<g id="n95"><rect class="g" x="42" y="676" width="30" height="11"/><text x="57" y="684.3">PDGF</text></g>
<g id="n96"><rect class="y" x="42" y="691" width="30" height="11"/><text x="57" y="699.3">IGF-1</text></g>
<g id="n97"><rect class="y" x="42" y="707" width="30" height="11"/><text x="57" y="715.3">KITLG</text></g>
<g id="n98"><rect class="w" x="42" y="722" width="30" height="11"/><text x="57" y="730.3">FLT3LG</text></g>
<g id="n99"><rect class="y" x="42" y="737" width="30" height="11"/><text x="57" y="745.3">HGF</text></g>
<g id="n100"><rect class="y" x="42" y="752" width="30" height="11"/><text x="57" y="760.3">FGF</text></g>
<g id="n101"><rect x="42" y="767" width="30" height="11" fill="#ff0"/><text x="57" y="775.3">LIF</text></g>
<g id="n102"><rect class="y" x="94" y="646" width="30" height="11"/><text x="109" y="654.3">EGFR</text></g>
<g id="n103"><rect class="y" x="94" y="659" width="30" height="11"/><text x="109" y="667.3">ERBB2</text></g>
<g id="n104"><rect class="g" x="94" y="676" width="30" height="11"/><text x="109" y="684.3">PDGFR</text></g>
<g id="n105"><rect class="y" x="94" y="691" width="30" height="11"/><text x="109" y="699.3">IGFR</text></g>
<g id="n106"><rect class="g" x="94" y="707" width="30" height="11"/><text x="109" y="715.3">c-KIT</text></g>
<g id="n107"><rect class="w" x="94" y="722" width="30" height="11"/><text x="109" y="730.3">FLT3</text></g>
<g id="n108"><rect class="g" x="94" y="737" width="30" height="11"/><text x="109" y="745.3">MET</text></g>
<g id="n109"><rect class="y" x="94" y="752" width="30" height="11"/><text x="109" y="760.3">FGFR</text></g>
<g id="n110"><rect x="94" y="767" width="30" height="11" fill="#ff0"/><text x="109" y="775.3">LIFR</text></g>
<g id="n111"><rect class="y" x="161" y="707" width="30" height="11"/><text x="176" y="715.3">Grb2</text></g>
<g id="n112"><rect class="y" x="207" y="707" width="31" height="11"/><text x="222.5" y="715.3">Sos</text></g>
<g id="n113"><rect class="r" x="256" y="706" width="31" height="11"/><text x="271.5" y="714.3">Ras</text></g>
<g id="n114"><rect class="y" x="310" y="707" width="30" height="11"/><text x="325" y="715.3">Raf</text></g>
<g id="n115"><rect class="y" x="362" y="708" width="31" height="10"/><text x="377.5" y="715.8">MEK</text></g>
<g id="n116"><rect class="g" x="454" y="708" width="31" height="10"/><text x="469.5" y="715.8">ERK</text></g>
<g id="n117"><rect class="y" x="438" y="738" width="30" height="10"/><text x="453" y="745.8">DAPK</text></g>
<g id="n118"><rect class="y" x="174" y="730" width="30" height="11"/><text x="189" y="738.3">RET/PTC</text></g>
<g id="n119"><rect class="w" x="223" y="753" width="30" height="11"/><text x="238" y="761.3" textLength="27" lengthAdjust="spacingAndGlyphs">RASSF1A</text></g>
<g id="n120"><rect class="y" x="94" y="795" width="30" height="11"/><text x="109" y="803.3">TRK</text></g>
<g id="n121"><rect class="y" x="159" y="816" width="30" height="11"/><text x="174" y="824.3">PLCγ</text></g>
<g id="n122"><rect class="g" x="238" y="806" width="30" height="11"/><text x="253" y="814.3">PKC</text></g>
<g id="n123"><rect class="y" x="298" y="808" width="30" height="11"/><text x="313" y="816.3">RalGDS</text></g>
<g id="n124"><rect class="w" x="349" y="793" width="30" height="11"/><text x="364" y="801.3">Ral</text></g>
<g id="n125"><rect class="w" x="399" y="784" width="30" height="11"/><text x="414" y="792.3">RalBP1</text></g>
<g id="n126"><rect class="y" x="457" y="784" width="30" height="11"/><text x="472" y="792.3" textLength="27" lengthAdjust="spacingAndGlyphs">Cdc42/Rac</text></g>
<g id="n127"><rect class="w" x="399" y="803" width="30" height="10"/><text x="414" y="810.8">PLD1</text></g>
<g id="n128"><rect class="g" x="349" y="824" width="30" height="11"/><text x="364" y="832.3">Rac/Rho</text></g>
<g id="n129"><rect class="y" x="399" y="824" width="30" height="11"/><text x="414" y="832.3">JNK</text></g>
<g id="n130"><rect class="g" x="522" y="684" width="30" height="11"/><text x="537" y="692.3">c-Jun</text><rect class="y" x="522" y="699" width="30" height="11"/><text x="537" y="707.3">c-Fos</text><rect class="g" x="522" y="714" width="30" height="11"/><text x="537" y="722.3">c-Myc</text><rect class="w" x="522" y="731" width="30" height="11"/><text x="537" y="739.3">Ets1</text></g>
<g id="n131"><rect class="g" x="593" y="677" width="31" height="11"/><text x="608.5" y="685.3">VEGF</text><rect class="y" x="593" y="692" width="31" height="10"/><text x="608.5" y="699.8">MMPs</text><rect class="y" x="593" y="706" width="31" height="11"/><text x="608.5" y="714.3">IL-8</text></g>
<g id="n132"><rect class="y" x="604" y="735" width="30" height="11"/><text x="619" y="743.3" textLength="27" lengthAdjust="spacingAndGlyphs">CyclinD1</text><rect class="w" x="604" y="748" width="30" height="12"/><text x="619" y="756.8">CDK4</text></g>
<g id="n133"><rect class="y" x="694" y="771" width="30" height="11"/><text x="709" y="779.3">RXR</text></g>
<g id="n134"><rect class="y" x="732" y="771" width="30" height="11"/><text x="747" y="779.3">PPARγ</text></g>
<g id="n135"><rect class="y" x="666" y="788" width="30" height="11"/><text x="681" y="796.3">PPFP</text></g>
<g id="n136"><rect class="y" x="770" y="759" width="31" height="12"/><text x="785.5" y="767.8">RARβ</text><rect class="y" x="770" y="771" width="31" height="11"/><text x="785.5" y="779.3">RXR</text></g>
<g id="n137"><rect class="y" x="840" y="682" width="31" height="11"/><text x="855.5" y="690.3" textLength="27" lengthAdjust="spacingAndGlyphs">CyclinD1</text><rect class="g" x="840" y="698" width="31" height="11"/><text x="855.5" y="706.3">c-Myc</text><rect class="r" x="840" y="712" width="31" height="11"/><text x="855.5" y="720.3">PPARδ</text></g>
<g id="n138"><rect class="r" x="812" y="812" width="30" height="10"/><text x="827" y="819.8">TCF</text></g>
<g id="n139"><rect class="w" x="842" y="830" width="30" height="11"/><text x="857" y="838.3" textLength="27" lengthAdjust="spacingAndGlyphs">plakoglobin</text></g>
<g id="n140"><rect class="g" x="847" y="371" width="48" height="20"/><text class="sn meq" x="871" y="386">Meq</text></g>
<g id="n141"><rect class="y" x="934" y="401" width="36" height="13"/><text class="sn" x="952" y="410.5">TP53</text></g>
<g id="n142"><rect class="r" x="1012" y="382" width="34" height="13"/><text class="sn" x="1029" y="391.5">PENK</text></g>
<g id="n143"><rect class="y" x="1011" y="399" width="31" height="11"/><text x="1026.5" y="407.3">MITF</text></g>
<g id="n144"><rect class="g" x="981" y="428" width="30" height="10"/><text x="996" y="435.8">MDM2</text></g>
<g id="n145"><rect class="w" x="1031" y="428" width="31" height="10"/><text x="1046.5" y="435.8">p14/ARF</text></g>
<g id="n146"><rect class="y" x="939" y="465" width="34" height="12"/><text class="sn" x="956" y="474.3">p21</text></g>
<g id="n147"><rect class="w" x="878" y="466" width="30" height="9"/><text x="893" y="473.3" textLength="27" lengthAdjust="spacingAndGlyphs">p16INK4a</text></g>
<g id="n148"><rect class="y" x="903" y="492" width="30" height="11"/><text x="918" y="500.3">CDK4/6</text><rect class="y" x="903" y="503" width="30" height="10"/><text x="918" y="510.8" textLength="27" lengthAdjust="spacingAndGlyphs">CyclinD1</text></g>
<g id="n149"><rect class="r" x="841" y="497" width="31" height="11"/><text x="856.5" y="505.3">Rb</text></g>
<g id="n150"><rect class="y" x="841" y="522" width="31" height="11"/><text x="856.5" y="530.3">E2F</text></g>
<g id="n151"><rect class="w" x="888" y="529" width="31" height="11"/><text x="903.5" y="537.3">CDK2</text><rect class="y" x="888" y="540" width="31" height="11"/><text x="903.5" y="548.3">CyclinE</text></g>
<g id="n152"><rect class="w" x="965" y="499" width="30" height="11"/><text x="980" y="507.3" textLength="27" lengthAdjust="spacingAndGlyphs">p15INK4b</text></g>
<g id="n153"><rect class="y" x="1049" y="499" width="30" height="11"/><text x="1064" y="507.3">Miz1</text></g>
<g id="n154"><rect class="g" x="1101" y="504" width="30" height="11"/><text x="1116" y="512.3">c-Myc</text><rect class="w" x="1101" y="515" width="30" height="11"/><text x="1116" y="523.3">Max</text></g>
<g id="n155"><rect class="y" x="943" y="553" width="30" height="11"/><text x="958" y="561.3" textLength="27" lengthAdjust="spacingAndGlyphs">p27/Kip1</text></g>
<g id="n156"><rect class="g" x="997" y="556" width="30" height="11"/><text x="1012" y="564.3">CKS1</text></g>
<g id="n157"><rect class="y" x="965" y="583" width="30" height="11"/><text x="980" y="591.3">Skp2</text></g>
<g id="n158"><rect class="y" x="1016" y="647" width="31" height="11"/><text x="1031.5" y="655.3">GMCSFR</text><rect class="y" x="1016" y="662" width="31" height="10"/><text x="1031.5" y="669.8">GCSFR</text><rect class="y" x="1049" y="662" width="30" height="10"/><text x="1064" y="669.8">MCSFR</text></g>
<g id="n159"><rect class="y" x="1096" y="647" width="31" height="11"/><text x="1111.5" y="655.3">GCSFR</text><rect class="y" x="1130" y="647" width="31" height="11"/><text x="1145.5" y="655.3">E2F</text><rect class="y" x="1096" y="662" width="31" height="10"/><text x="1111.5" y="669.8">IL-6</text><rect class="g" x="1130" y="662" width="31" height="10"/><text x="1145.5" y="669.8">c-Myc</text></g>
<g id="n160"><rect class="y" x="1175" y="647" width="31" height="11"/><text x="1190.5" y="655.3">MCSFR</text><rect class="w" x="1175" y="662" width="31" height="10"/><text x="1190.5" y="669.8">TCR</text></g>
<g id="n161"><rect class="w" x="945" y="709" width="30" height="11"/><text x="960" y="717.3">CyclinA1</text></g>
<g id="n162"><rect class="y" x="943" y="779" width="30" height="11"/><text x="958" y="787.3" textLength="27" lengthAdjust="spacingAndGlyphs">PLZF-RARα</text></g>
<g id="n163"><rect class="y" x="987" y="779" width="30" height="11"/><text x="1002" y="787.3" textLength="27" lengthAdjust="spacingAndGlyphs">PML-RARα</text></g>
<g id="n164"><rect class="y" x="1039" y="779" width="31" height="11"/><text x="1054.5" y="787.3" textLength="27" lengthAdjust="spacingAndGlyphs">AML1-ETO</text></g>
<g id="n165"><rect class="w" x="1012" y="742" width="31" height="11"/><text x="1027.5" y="750.3">PU.1</text></g>
<g id="n166"><rect class="w" x="1050" y="742" width="31" height="11"/><text x="1065.5" y="750.3">PU.1</text></g>
<g id="n167"><rect class="w" x="1090" y="742" width="31" height="11"/><text x="1105.5" y="750.3">C/EBPα</text></g>
<g id="n168"><rect class="w" x="1130" y="742" width="31" height="11"/><text x="1145.5" y="750.3">C/EBPα</text></g>
<g id="n169"><rect class="y" x="1189" y="743" width="30" height="11"/><text x="1204" y="751.3">AML1</text></g>
</g>
<g id="caption">
<text class="cap capb" x="25" y="895" textLength="1239" lengthAdjust="spacingAndGlyphs">Figure 1 Proteomics based network model showing differential expression of proteins in canonical cancer pathways and the intricate</text>
<text class="cap capb" x="25" y="921" textLength="611" lengthAdjust="spacingAndGlyphs">involvement of Meq, via hypothesized CD30-NF-κB-Meq pathway.</text>
<text class="cap" x="642" y="921" textLength="622" lengthAdjust="spacingAndGlyphs">Canonical Network model of proteome data using differential proteomic</text>
<text class="cap" x="25" y="948" textLength="1215" lengthAdjust="spacingAndGlyphs">expression (CD30<tspan class="sup" dy="-8">hi</tspan><tspan dy="8"> compared to CD30</tspan><tspan class="sup" dy="-8">lo</tspan><tspan dy="8">) mapped against cancer specific KEGG pathway “Pathways in cancer” and further modified by adding</tspan></text>
<text class="cap" x="25" y="974" textLength="1192" lengthAdjust="spacingAndGlyphs">published Meq interaction and hypothesized Meq-CD30-NF-κB-Meq pathway. Light black solid lines indicate direct interaction, dotted lines</text>
<text class="cap" x="25" y="1000" textLength="1243" lengthAdjust="spacingAndGlyphs">indicate indirect interaction. Red dotted lines indicate our hypothesized CD30-NF-κB-Meq pathway. Literature based Meq interacting proteins are</text>
<text class="cap" x="25" y="1027" textLength="437" lengthAdjust="spacingAndGlyphs">indicated by dark black lines originating from Meq.</text>
</g>
</svg>
